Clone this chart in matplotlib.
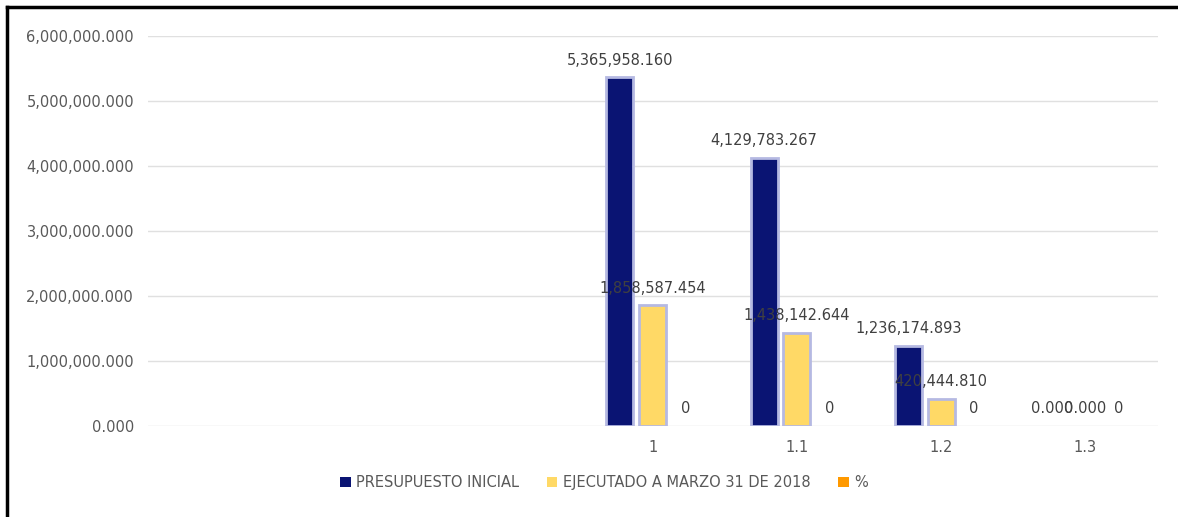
import matplotlib.pyplot as plt
import numpy as np
from matplotlib.lines import Line2D
from matplotlib.patches import Patch

# Datos
categorias = ['', '', '', '1', '1.1', '1.2', '1.3']
presupuesto = [np.nan, np.nan, np.nan, 5365958.160, 4129783.267, 1236174.893, 0]
ejecutado = [np.nan, np.nan, np.nan, 1858587.454, 1438142.644, 420444.810, 0]
porcentaje = [np.nan, np.nan, np.nan, 0, 0, 0, 0]

series = ['PRESUPUESTO INICIAL', 'EJECUTADO A MARZO 31 DE 2018', '%']
colores = ['#0a1473', '#ffd966', '#ff9900']

fig = plt.figure(figsize=(11.78, 5.17), dpi=100)
ax = fig.add_axes([0.1256, 0.176, 0.857, 0.754])

x = np.arange(len(categorias))
ancho = 0.187
paso = 0.228

valores = [presupuesto, ejecutado, porcentaje]
for i, (vals, color) in enumerate(zip(valores, colores)):
    pos = x + (i - 1) * paso
    vals = np.array(vals, dtype=float)
    # halo lila solo en barras con valor
    lw = [2.0 if (not np.isnan(v) and v > 0) else 0 for v in vals]
    ax.bar(pos, vals, width=ancho, color=color, edgecolor='#b5b9e2',
           linewidth=lw, zorder=3)
    for xp, v in zip(pos, vals):
        if np.isnan(v):
            continue
        if i == 2:
            txt = f'{v:.0f}'
        else:
            txt = f'{v:,.3f}'
        ax.annotate(txt, (xp, v), xytext=(0, 7), textcoords='offset points',
                    ha='center', va='bottom', fontsize=10.5, color='#404040',
                    zorder=4)

ax.set_xlim(-0.5, len(categorias) - 0.5)
ax.set_ylim(0, 6000000)
ax.set_yticks(np.arange(0, 6000001, 1000000))
ax.set_yticklabels([f'{t:,.3f}' for t in ax.get_yticks()])
ax.set_xticks(x)
ax.set_xticklabels(categorias)

ax.grid(axis='y', color='#e0e0e0', linewidth=1, zorder=0)
ax.set_axisbelow(True)
for s in ax.spines.values():
    s.set_visible(False)
ax.tick_params(length=0, labelsize=10.5, labelcolor='#595959')
ax.tick_params(axis='y', pad=10)
ax.tick_params(axis='x', pad=10)

handles = [Patch(facecolor=c, edgecolor='none') for c in colores]
fig.legend(handles, series, loc='center', bbox_to_anchor=(0.513, 0.066),
           ncol=3, frameon=False, fontsize=10.5, handlelength=0.7,
           handleheight=0.7, handletextpad=0.4, columnspacing=1.9,
           labelcolor='#595959')

# Borde negro (arriba e izquierda)
fig.add_artist(Line2D([0.006, 1.0], [0.986, 0.986], color='black', linewidth=2.5,
                      transform=fig.transFigure))
fig.add_artist(Line2D([0.006, 0.006], [0.0, 0.986], color='black', linewidth=2.5,
                      transform=fig.transFigure))

fig.savefig('out.png', dpi=100)
